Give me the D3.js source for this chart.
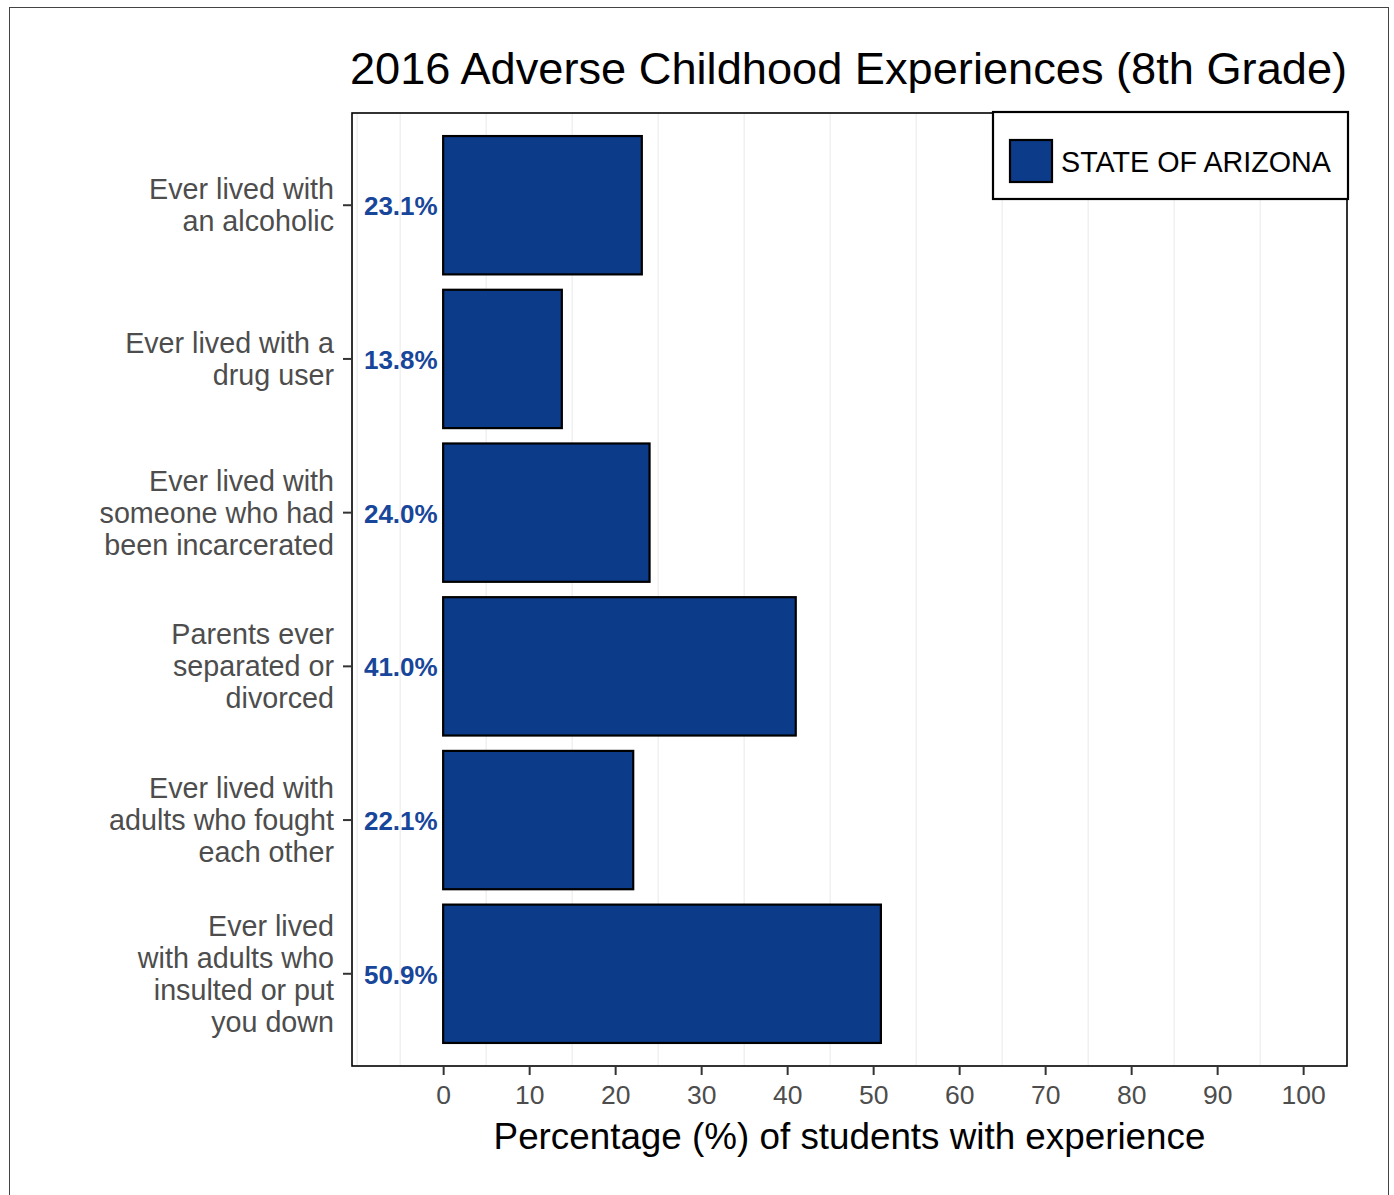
<!DOCTYPE html>
<html>
<head>
<meta charset="utf-8">
<script src="https://cdn.jsdelivr.net/npm/d3@7"></script>
<style>
  html, body { margin: 0; padding: 0; background: #fff; }
  svg { display: block; font-family: "Liberation Sans", Arial, Helvetica, sans-serif; }
</style>
</head>
<body>
<svg id="chart" width="1394" height="1195"></svg>
<script>
// Survey items (top to bottom) and share of 8th graders reporting each one
const categories = [
  ["Ever lived with", "an alcoholic"],
  ["Ever lived with a", "drug user"],
  ["Ever lived with", "someone who had", "been incarcerated"],
  ["Parents ever", "separated or", "divorced"],
  ["Ever lived with", "adults who fought", "each other"],
  ["Ever lived", "with adults who", "insulted or put", "you down"]
];
const values = [23.1, 13.8, 24.0, 41.0, 22.1, 50.9];
const xTicks = [0, 10, 20, 30, 40, 50, 60, 70, 80, 90, 100];
const xGrid = [-10, -5, 5, 15, 25, 35, 45, 55, 65, 75, 85, 95];
const seriesName = "STATE OF ARIZONA";
const titleText = "2016 Adverse Childhood Experiences (8th Grade)";
const xTitle = "Percentage (%) of students with experience";

const barFill = "#0c3b89";
const labelColor = "#17469a";

const svg = d3.select("#chart");
const panel = { left: 352, right: 1347, top: 113, bottom: 1066 };

const x = d3.scaleLinear().domain([-10.6, 105.1]).range([panel.left, panel.right]);
// discrete positions 1..n with 0.6 expansion on either end
const y = d3.scaleLinear().domain([0.4, categories.length + 0.6]).range([panel.top, panel.bottom]);
const barH = (y(1) - y(0)) * 0.9;

// outer frame
svg.append("rect")
  .attr("x", 9.5).attr("y", 7.5).attr("width", 1379).attr("height", 1200)
  .attr("fill", "none").attr("stroke", "#444").attr("stroke-width", 1);

// panel background + grid
svg.append("rect")
  .attr("x", panel.left).attr("y", panel.top)
  .attr("width", panel.right - panel.left).attr("height", panel.bottom - panel.top)
  .attr("fill", "#fff");

svg.append("g").selectAll("line").data(xGrid).join("line")
  .attr("x1", d => x(d)).attr("x2", d => x(d))
  .attr("y1", panel.top).attr("y2", panel.bottom)
  .attr("stroke", "#ebebeb").attr("stroke-width", 1.1);

// bars
const rows = values.map((v, i) => ({ v, i: i + 1, lines: categories[i] }));
svg.append("g").selectAll("rect").data(rows).join("rect")
  .attr("x", x(0))
  .attr("y", d => y(d.i) - barH / 2)
  .attr("width", d => x(d.v) - x(0))
  .attr("height", barH)
  .attr("fill", barFill)
  .attr("stroke", "#000")
  .attr("stroke-width", 2.2);

// value labels left of each bar
svg.append("g").selectAll("text").data(rows).join("text")
  .attr("x", x(0) - 5.5)
  .attr("y", d => y(d.i) + 10)
  .attr("text-anchor", "end")
  .attr("font-size", 26)
  .attr("font-weight", "bold")
  .attr("fill", labelColor)
  .text(d => d.v.toFixed(1) + "%");

// panel border
svg.append("rect")
  .attr("x", panel.left).attr("y", panel.top)
  .attr("width", panel.right - panel.left).attr("height", panel.bottom - panel.top)
  .attr("fill", "none").attr("stroke", "#000").attr("stroke-width", 1.6);

// x axis
const xAxis = d3.axisBottom(x).tickValues(xTicks).tickSize(9).tickPadding(4).tickFormat(d3.format("d"));
const gx = svg.append("g").attr("transform", `translate(0,${panel.bottom})`).call(xAxis);
gx.select(".domain").remove();
gx.selectAll(".tick line").attr("stroke", "#333").attr("stroke-width", 2);
gx.selectAll(".tick text")
  .attr("font-size", 26.5).attr("fill", "#4d4d4d")
  .attr("font-family", "'Liberation Sans', Arial, sans-serif")
  .attr("dy", null).attr("y", 38);

// y axis ticks and wrapped category labels
const gy = svg.append("g");
gy.selectAll("line").data(rows).join("line")
  .attr("x1", panel.left - 9).attr("x2", panel.left)
  .attr("y1", d => y(d.i)).attr("y2", d => y(d.i))
  .attr("stroke", "#333").attr("stroke-width", 2);

const lineGap = 32;
gy.selectAll("text").data(rows).join("text")
  .attr("text-anchor", "end")
  .attr("font-size", 28.7)
  .attr("fill", "#4d4d4d")
  .each(function (d) {
    const n = d.lines.length;
    d3.select(this).selectAll("tspan").data(d.lines).join("tspan")
      .attr("x", 334)
      .attr("y", (t, k) => y(d.i) + (k - (n - 1) / 2) * lineGap + 10)
      .text(t => t);
  });

// title
svg.append("text")
  .attr("x", (panel.left + panel.right) / 2 - 1).attr("y", 84)
  .attr("text-anchor", "middle").attr("font-size", 45.2).attr("fill", "#000")
  .text(titleText);

// x axis title
svg.append("text")
  .attr("x", (panel.left + panel.right) / 2).attr("y", 1149)
  .attr("text-anchor", "middle").attr("font-size", 36.8).attr("fill", "#000")
  .text(xTitle);

// legend
const lg = svg.append("g");
lg.append("rect")
  .attr("x", 993).attr("y", 112).attr("width", 355).attr("height", 87)
  .attr("fill", "#fff").attr("stroke", "#000").attr("stroke-width", 2.2);
lg.append("rect")
  .attr("x", 1010).attr("y", 140).attr("width", 42).attr("height", 42)
  .attr("fill", barFill).attr("stroke", "#000").attr("stroke-width", 2.2);
lg.append("text")
  .attr("x", 1061).attr("y", 172)
  .attr("font-size", 28.7).attr("fill", "#000")
  .text(seriesName);
</script>
</body>
</html>
